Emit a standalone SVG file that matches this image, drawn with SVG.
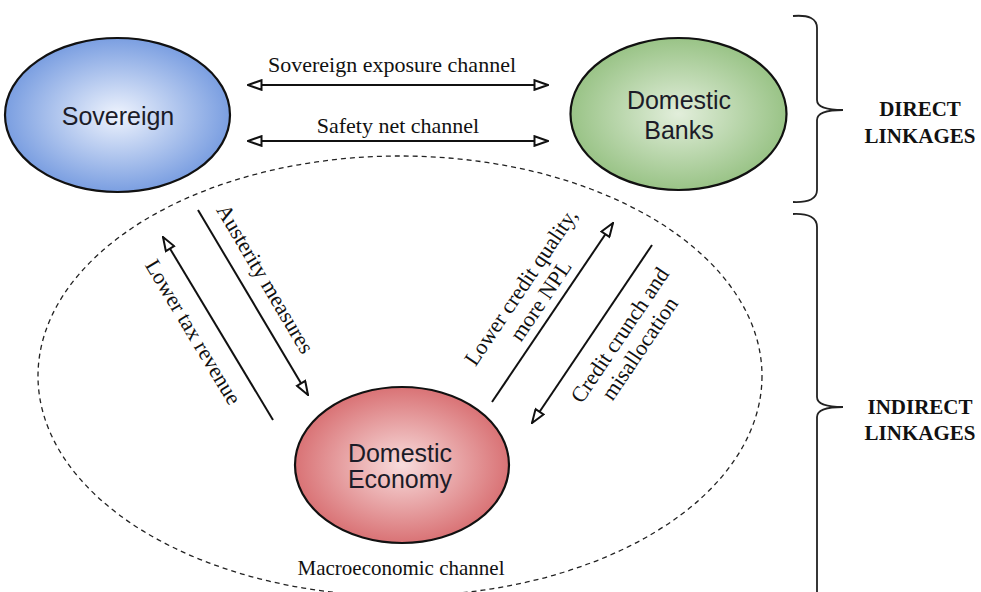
<svg xmlns="http://www.w3.org/2000/svg" width="981" height="592" viewBox="0 0 981 592">
<style>
.node-shape{stroke:#111;stroke-width:2.2}
.node-label{font-family:"Liberation Sans",Arial,sans-serif;font-size:25px;fill:#1c1c28;text-anchor:middle}
.lbl{font-family:"Liberation Serif","Times New Roman",serif;font-size:22px;fill:#111;text-anchor:middle}
.side{font-family:"Liberation Serif","Times New Roman",serif;font-size:21px;font-weight:bold;fill:#111;text-anchor:middle}
.arrow{stroke:#111;stroke-width:2;fill:none}
.brace{stroke:#222;stroke-width:1.8;fill:none}
</style>
<defs>
<radialGradient id="gBlue" cx="50%" cy="50%" r="55%">
<stop offset="0" stop-color="#eef3fd"/>
<stop offset="1" stop-color="#6f96de"/>
</radialGradient>
<radialGradient id="gGreen" cx="50%" cy="50%" r="55%">
<stop offset="0" stop-color="#e2eedb"/>
<stop offset="1" stop-color="#92bf7e"/>
</radialGradient>
<radialGradient id="gRed" cx="50%" cy="50%" r="55%">
<stop offset="0" stop-color="#f8dcdc"/>
<stop offset="1" stop-color="#d6686b"/>
</radialGradient>
<marker id="open" viewBox="0 0 16 12" markerWidth="16" markerHeight="12" refX="15" refY="6" markerUnits="userSpaceOnUse" orient="auto-start-reverse">
<path d="M1.5,1.2 L15,6 L1.5,10.8 Z" fill="#fff" stroke="#111" stroke-width="2" stroke-linejoin="miter"/>
</marker>
</defs>
<rect width="981" height="592" fill="#fff"/>

<g id="macro-region">
<ellipse cx="400" cy="376" rx="362" ry="220" fill="none" stroke="#222" stroke-width="1.3" stroke-dasharray="5 4"/>
<text class="lbl" x="401" y="575" style="font-size:21px">Macroeconomic channel</text>
</g>

<g id="sovereign">
<ellipse class="node-shape" cx="117.5" cy="115" rx="112.5" ry="77" fill="url(#gBlue)"/>
<text class="node-label" x="118" y="125">Sovereign</text>
</g>

<g id="domestic-banks">
<ellipse class="node-shape" cx="678.5" cy="114" rx="108" ry="76" fill="url(#gGreen)"/>
<text class="node-label" x="679" y="109">Domestic</text>
<text class="node-label" x="679" y="139">Banks</text>
</g>

<g id="domestic-economy">
<ellipse class="node-shape" cx="402" cy="465" rx="107" ry="78" fill="url(#gRed)"/>
<text class="node-label" x="400" y="462">Domestic</text>
<text class="node-label" x="400" y="488">Economy</text>
</g>

<g id="connectors">
<line class="arrow" x1="248" y1="85" x2="548" y2="85" marker-start="url(#open)" marker-end="url(#open)"/>
<text class="lbl" x="392" y="72">Sovereign exposure channel</text>
<line class="arrow" x1="248" y1="141" x2="548" y2="141" marker-start="url(#open)" marker-end="url(#open)"/>
<text class="lbl" x="398" y="133">Safety net channel</text>

<line class="arrow" x1="198" y1="210" x2="308" y2="395" marker-end="url(#open)"/>
<text class="lbl" transform="translate(265,279) rotate(59.3)" x="0" y="7">Austerity measures</text>

<line class="arrow" x1="273" y1="420" x2="163" y2="237" marker-end="url(#open)"/>
<text class="lbl" transform="translate(193,332) rotate(59)" x="0" y="7">Lower tax revenue</text>

<line class="arrow" x1="492" y1="402" x2="613" y2="223" marker-end="url(#open)"/>
<text class="lbl" transform="translate(531,294) rotate(-56)"><tspan x="0" y="-5">Lower credit quality,</tspan><tspan x="0" y="19">more NPL</tspan></text>

<line class="arrow" x1="652" y1="245" x2="532" y2="423" marker-end="url(#open)"/>
<text class="lbl" transform="translate(630,342) rotate(-56)"><tspan x="0" y="-5">Credit crunch and</tspan><tspan x="0" y="19">misallocation</tspan></text>
</g>

<g id="direct-linkages">
<path class="brace" d="M793,16 Q817,14 817,28 L817,100 Q817,110 843,110 Q817,110 817,120 L817,190 Q817,203 793,202"/>
<text class="side" x="920" y="116">DIRECT</text>
<text class="side" x="920" y="143">LINKAGES</text>
</g>

<g id="indirect-linkages">
<path class="brace" d="M793,214 Q817,213 817,227 L817,397 Q817,407 843,407 Q817,407 817,417 L817,600"/>
<text class="side" x="920" y="414">INDIRECT</text>
<text class="side" x="920" y="440">LINKAGES</text>
</g>
</svg>
